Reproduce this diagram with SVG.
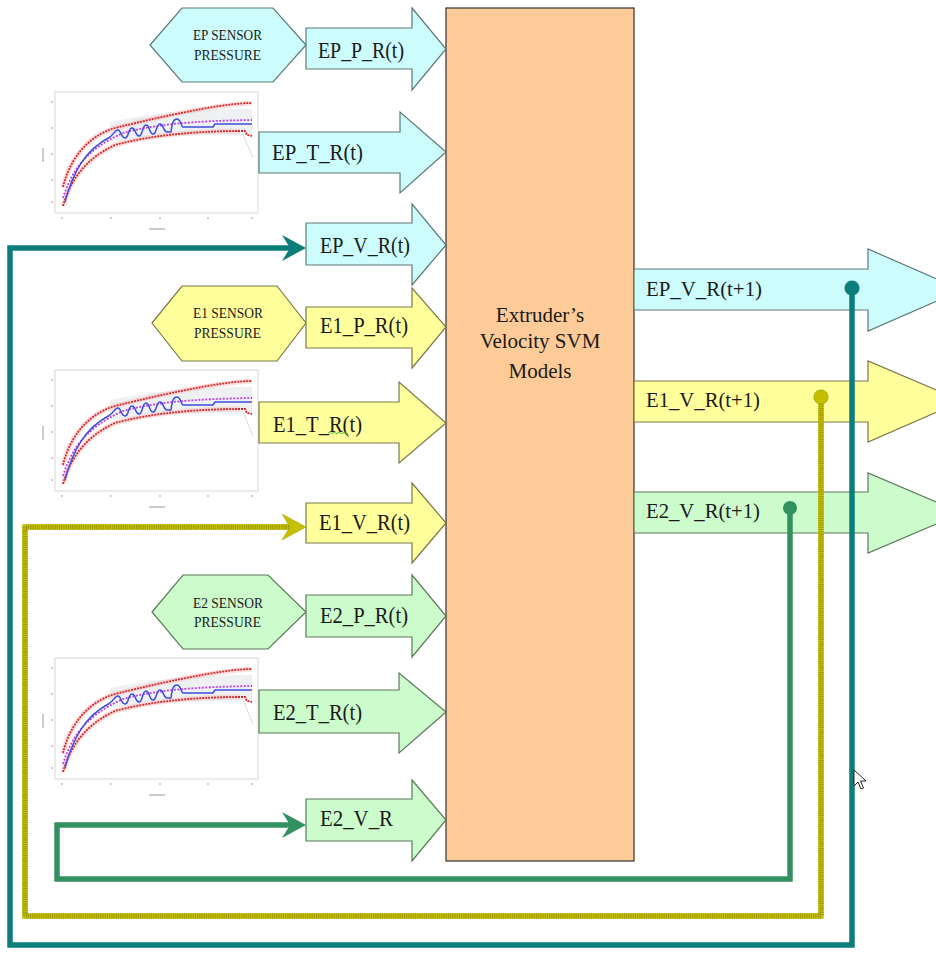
<svg xmlns="http://www.w3.org/2000/svg" xmlns:xlink="http://www.w3.org/1999/xlink" width="936" height="953" viewBox="0 0 936 953">
<style>
  .cyan { fill: #ccfcfc; stroke: #5d7878; stroke-width: 1.2; }
  .yel { fill: #ffff9c; stroke: #7a7848; stroke-width: 1.2; }
  .grn { fill: #ccfbcc; stroke: #5b785b; stroke-width: 1.2; }
  .wire { fill: none; stroke-width: 5.5; stroke-linejoin: miter; }
  .teal { stroke: #0b7d7b; }
  .olive { stroke: #c4c000; }
  .olivehatch { stroke: #9e9a00; stroke-dasharray: 1 1.2; }
  .green { stroke: #33905f; }
  .frame { fill: #ffffff; stroke: #d8d8d8; stroke-width: 1; }
  .red { fill: none; stroke: #d42626; stroke-width: 1.8; stroke-dasharray: 2 1; }
  .redglow { fill: none; stroke: #f6c0c0; stroke-width: 5; opacity: 0.5; }
  .purp { fill: none; stroke: #c040e6; stroke-width: 1.8; stroke-dasharray: 2 1.5; }
  .blue { fill: none; stroke: #3b4fd8; stroke-width: 1.5; stroke-linejoin: round; }
  .tick { stroke: #bdbdbd; stroke-width: 1.5; }
</style>
<defs>
  <g id="chart">
    <rect class="frame" x="0" y="0" width="203" height="121"/>
    <path d="M55,30 C90,22 150,16 197,17 L197,44 C150,42 100,44 55,50 Z" fill="#e2e6ea" opacity="0.6"/>
    <path class="redglow" d="M8,95 C14,70 30,45 60,36 C100,26 150,14 197,11"/>
    <path class="redglow" d="M8,114 C15,90 28,68 60,53 C100,42 150,39 185,39"/>
    <path d="M188,42 L198,66" stroke="#dcdcdc" stroke-width="1" fill="none"/>
    <path class="red" d="M8,95 C14,70 30,45 60,36 C100,26 130,20 152,16 C170,13 185,11 197,11"/>
    <path class="red" d="M8,114 C15,90 28,68 60,53 C100,42 150,39 185,39 L190,39 L192,43 L197,44"/>
    <path class="purp" d="M8,106 C16,80 30,58 68,41 C100,32 140,29 197,28"/>
    <path class="blue" d="M10,110 C18,80 30,58 55,45 C58,43 60,38 63,38 C66,38 66,46 70,46 C74,46 73,36 77,36 C81,36 80,44 84,44 C88,44 87,33 91,33 C95,33 94,42 98,42 C102,42 101,32 105,32 C109,32 108,40 112,40 L116,40 C117,32 118,27 122,27 C126,27 126,35 128,35 L158,35 L160,32 L197,32"/>
    <g class="tick">
      <line x1="-4" y1="10" x2="-2" y2="10"/><line x1="-4" y1="36" x2="-2" y2="36"/>
      <line x1="-4" y1="62" x2="-2" y2="62"/><line x1="-4" y1="88" x2="-2" y2="88"/>
      <line x1="-4" y1="110" x2="-2" y2="110"/>
      <line x1="-12" y1="56" x2="-12" y2="70"/>
      <line x1="7" y1="125" x2="7" y2="127"/><line x1="56" y1="125" x2="56" y2="127"/>
      <line x1="105" y1="125" x2="105" y2="127"/><line x1="153" y1="125" x2="153" y2="127"/>
      <line x1="197" y1="125" x2="197" y2="127"/>
      <line x1="94" y1="137" x2="110" y2="137"/>
    </g>
  </g>
  <path id="stealth" d="M0,0 L-24,-13 L-16,0 L-24,13 Z"/>
</defs>

<!-- charts -->
<g id="chart-EP"><use xlink:href="#chart" href="#chart" transform="translate(55,92)"/></g>
<g id="chart-E1"><use xlink:href="#chart" href="#chart" transform="translate(55,370)"/></g>
<g id="chart-E2"><use xlink:href="#chart" href="#chart" transform="translate(55,658)"/></g>

<g font-family="Liberation Serif, DejaVu Serif, serif" fill="#1a1a1a">
<!-- center box -->
<g id="svm-box">
  <rect x="446" y="8" width="188" height="853" fill="#fdcb98" stroke="#333333" stroke-width="1.2"/>
  <text font-family="Liberation Serif, DejaVu Serif, serif" font-size="21" text-anchor="middle" x="540" y="322">Extruder’s</text>
  <text font-family="Liberation Serif, DejaVu Serif, serif" font-size="21" text-anchor="middle" x="540" y="348">Velocity SVM</text>
  <text font-family="Liberation Serif, DejaVu Serif, serif" font-size="21" text-anchor="middle" x="540" y="378">Models</text>
</g>

<!-- EP row -->
<g id="ep-sensor">
  <path class="cyan" d="M150,45 L182,8 L273,8 L306,45 L273,82 L182,82 Z"/>
  <text font-family="Liberation Serif, DejaVu Serif, serif" font-size="15" x="193" y="40" textLength="69" lengthAdjust="spacingAndGlyphs">EP SENSOR</text>
  <text font-family="Liberation Serif, DejaVu Serif, serif" font-size="15" x="194" y="60" textLength="67" lengthAdjust="spacingAndGlyphs">PRESSURE</text>
</g>
<g id="ep-p">
  <path class="cyan" d="M306,28 H412 V8 L446,49 L412,90 V69 H306 Z"/>
  <text font-family="Liberation Serif, DejaVu Serif, serif" font-size="23" x="318" y="58" textLength="86" lengthAdjust="spacingAndGlyphs">EP_P_R(t)</text>
</g>
<g id="ep-t">
  <path class="cyan" d="M259,132 H400 V112 L446,152 L400,193 V173 H259 Z"/>
  <text font-family="Liberation Serif, DejaVu Serif, serif" font-size="23" x="272" y="160" textLength="91" lengthAdjust="spacingAndGlyphs">EP_T_R(t)</text>
</g>
<g id="ep-v">
  <path class="cyan" d="M306,223 H412 V204 L446,245 L412,285 V265 H306 Z"/>
  <text font-family="Liberation Serif, DejaVu Serif, serif" font-size="23" x="320" y="253" textLength="90" lengthAdjust="spacingAndGlyphs">EP_V_R(t)</text>
</g>

<!-- E1 row -->
<g id="e1-sensor">
  <path class="yel" d="M152,323 L182,286 L277,286 L306,323 L277,361 L182,361 Z"/>
  <text font-family="Liberation Serif, DejaVu Serif, serif" font-size="15" x="193" y="318" textLength="70" lengthAdjust="spacingAndGlyphs">E1 SENSOR</text>
  <text font-family="Liberation Serif, DejaVu Serif, serif" font-size="15" x="194" y="338" textLength="67" lengthAdjust="spacingAndGlyphs">PRESSURE</text>
</g>
<g id="e1-p">
  <path class="yel" d="M306,307 H412 V288 L446,327 L412,368 V348 H306 Z"/>
  <text font-family="Liberation Serif, DejaVu Serif, serif" font-size="23" x="320" y="333" textLength="88" lengthAdjust="spacingAndGlyphs">E1_P_R(t)</text>
</g>
<g id="e1-t">
  <path class="yel" d="M259,402 H399 V382 L446,423 L399,463 V443 H259 Z"/>
  <text font-family="Liberation Serif, DejaVu Serif, serif" font-size="23" x="273" y="432" textLength="89" lengthAdjust="spacingAndGlyphs">E1_T_R(t)</text>
  <path d="M328,433 q1.25,-1.5 2.5,0 t2.5,0 t2.5,0 t2.5,0 t2.5,0 t2.5,0 t2.5,0 t2.5,0" fill="none" stroke="#3aa83a" stroke-width="0.9"/>
</g>
<g id="e1-v">
  <path class="yel" d="M306,503 H412 V483 L446,523 L412,563 V543 H306 Z"/>
  <text font-family="Liberation Serif, DejaVu Serif, serif" font-size="23" x="319" y="530" textLength="91" lengthAdjust="spacingAndGlyphs">E1_V_R(t)</text>
</g>

<!-- E2 row -->
<g id="e2-sensor">
  <path class="grn" d="M152,612 L183,575 L268,575 L306,612 L268,649 L183,649 Z"/>
  <text font-family="Liberation Serif, DejaVu Serif, serif" font-size="15" x="193" y="608" textLength="70" lengthAdjust="spacingAndGlyphs">E2 SENSOR</text>
  <text font-family="Liberation Serif, DejaVu Serif, serif" font-size="15" x="194" y="627" textLength="67" lengthAdjust="spacingAndGlyphs">PRESSURE</text>
</g>
<g id="e2-p">
  <path class="grn" d="M306,595 H412 V575 L446,616 L412,657 V637 H306 Z"/>
  <text font-family="Liberation Serif, DejaVu Serif, serif" font-size="23" x="320" y="623" textLength="88" lengthAdjust="spacingAndGlyphs">E2_P_R(t)</text>
</g>
<g id="e2-t">
  <path class="grn" d="M259,690 H399 V673 L446,712 L399,753 V733 H259 Z"/>
  <text font-family="Liberation Serif, DejaVu Serif, serif" font-size="23" x="273" y="720" textLength="89" lengthAdjust="spacingAndGlyphs">E2_T_R(t)</text>
</g>
<g id="e2-v">
  <path class="grn" d="M306,799 H412 V780 L446,820 L412,861 V841 H306 Z"/>
  <text font-family="Liberation Serif, DejaVu Serif, serif" font-size="23" x="320" y="826" textLength="73" lengthAdjust="spacingAndGlyphs">E2_V_R</text>
</g>

<!-- outputs -->
<g id="ep-v-next">
  <path class="cyan" d="M634,269 H868 V249 L962,290 L868,331 V310 H634 Z"/>
  <text font-family="Liberation Serif, DejaVu Serif, serif" font-size="21" x="646" y="296" textLength="116" lengthAdjust="spacingAndGlyphs">EP_V_R(t+1)</text>
</g>
<g id="e1-v-next">
  <path class="yel" d="M634,381 H868 V361 L962,401 L868,442 V422 H634 Z"/>
  <text font-family="Liberation Serif, DejaVu Serif, serif" font-size="21" x="646" y="407" textLength="114" lengthAdjust="spacingAndGlyphs">E1_V_R(t+1)</text>
</g>
<g id="e2-v-next">
  <path class="grn" d="M634,492 H868 V473 L962,513 L868,553 V533 H634 Z"/>
  <text font-family="Liberation Serif, DejaVu Serif, serif" font-size="21" x="646" y="518" textLength="114" lengthAdjust="spacingAndGlyphs">E2_V_R(t+1)</text>
</g>
</g>

<!-- feedback connectors -->
<g id="connectors">
  <g id="loop-ep">
    <path class="wire teal" d="M852,288 V945 H10 V248 H292"/>
    <circle cx="852" cy="288" r="7.5" fill="#0b7d7b"/>
    <use href="#stealth" xlink:href="#stealth" transform="translate(306,248)" fill="#0b7d7b"/>
  </g>
  <g id="loop-e1">
    <path class="wire olive" d="M821,397 V916 H25 V527 H292"/>
    <path class="wire olivehatch" d="M821,397 V916 H25 V527 H292"/>
    <circle cx="821" cy="397" r="7" fill="#c4c000" stroke="#a8a400" stroke-width="1"/>
    <use href="#stealth" xlink:href="#stealth" transform="translate(306,527)" fill="#c4c000" stroke="#a09c00" stroke-width="1" stroke-dasharray="1 1"/>
  </g>
  <g id="loop-e2">
    <path class="wire green" d="M790,508 V879 H57 V825 H292"/>
    <circle cx="790" cy="508" r="7" fill="#33905f"/>
    <use href="#stealth" xlink:href="#stealth" transform="translate(306,825)" fill="#33905f"/>
  </g>
</g>

<!-- mouse pointer -->
<path d="M854,770 L854,786 L858,782 L861,789 L863.5,788 L860.5,781 L866,781 Z" fill="#ffffff" stroke="#222222" stroke-width="1"/>
</svg>
